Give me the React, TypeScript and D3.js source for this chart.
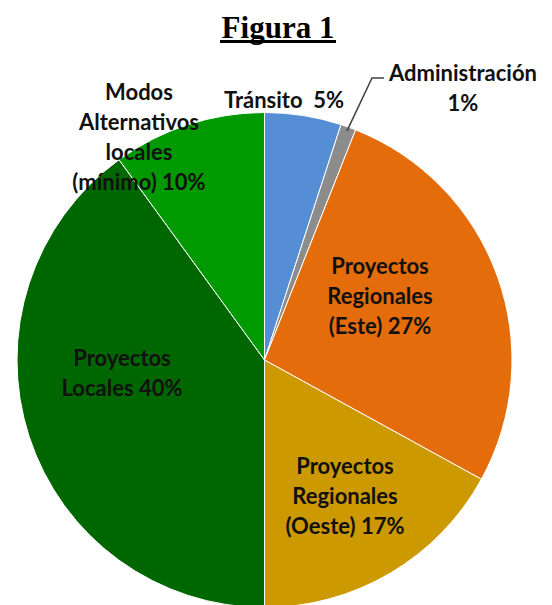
import React from "react";
import * as d3 from "d3";

const categories = [
  "Tránsito",
  "Administración",
  "Proyectos Regionales (Este)",
  "Proyectos Regionales (Oeste)",
  "Proyectos Locales",
  "Modos Alternativos locales (mínimo)",
];
const values = [5, 1, 27, 17, 40, 10];
const colors = ["#558ED5", "#8C8C8C", "#E46C0A", "#CC9900", "#006600", "#009900"];
const labelLines = [
  ["Tránsito  5%"],
  ["Administración", "1%"],
  ["Proyectos", "Regionales", "(Este) 27%"],
  ["Proyectos", "Regionales", "(Oeste) 17%"],
  ["Proyectos", "Locales 40%"],
  ["Modos", "Alternativos", "locales", "(mínimo) 10%"],
];
const labelPos: [number, number][] = [
  [284, 100],
  [463, 73],
  [380, 266],
  [345, 466],
  [122, 358],
  [139, 92],
];

export default function App() {
  const W = 552, H = 605;
  const cx = 264.5, cy = 360, r = 247.5;
  const pie = d3.pie<number>().sort(null).value((d) => d)(values);
  const arc = d3.arc<d3.PieArcDatum<number>>().innerRadius(0).outerRadius(r);
  const lineH = 30;
  const adm = pie[1];
  const midA = (adm.startAngle + adm.endAngle) / 2;
  const p0: [number, number] = [cx + Math.sin(midA) * (r - 4), cy - Math.cos(midA) * (r - 4)];
  return (
    <svg width={W} height={H} style={{ position: "absolute", left: 0, top: 0 }}>
      <rect width={W} height={H} fill="#fff" />
      <text x={278} y={38} textAnchor="middle" fontFamily="'Liberation Serif', 'Times New Roman', serif" fontWeight="bold" fontSize={31} fill="#000">
        Figura 1
      </text>
      <rect x={220} y={40} width={116} height={3} fill="#000" />
      <g transform={`translate(${cx},${cy})`}>
        {pie.map((d, i) => (
          <path key={categories[i]} d={arc(d) || ""} fill={colors[i]} stroke="#fff" strokeWidth={1} />
        ))}
      </g>
      <polyline
        points={`${p0[0]},${p0[1]} 372,78 384,78`}
        fill="none"
        stroke="#404040"
        strokeWidth={1.5}
      />
      {labelLines.map((lines, i) => (
        <text
          key={i}
          textAnchor="middle"
          fontFamily="Lato, 'Open Sans', sans-serif"
          fontWeight="bold"
          fontSize={22}
          fill="#111"
        >
          {lines.map((l, j) => (
            <tspan key={j} x={labelPos[i][0]} y={labelPos[i][1] + j * lineH + 8} style={{ whiteSpace: "pre" }}>
              {l}
            </tspan>
          ))}
        </text>
      ))}
    </svg>
  );
}
